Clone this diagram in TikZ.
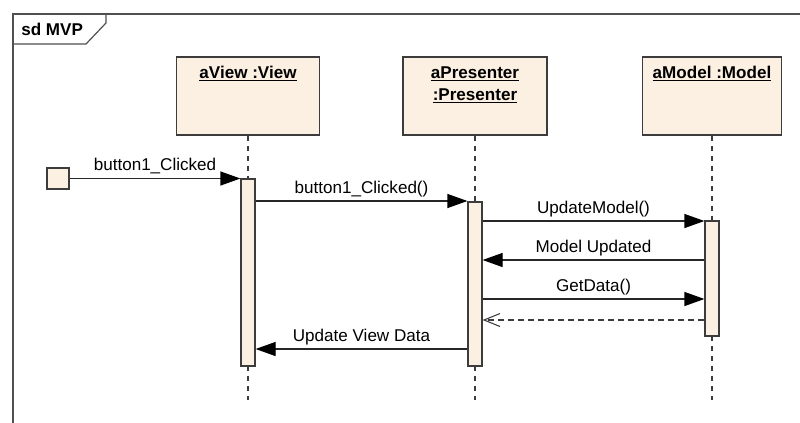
\documentclass[tikz,border=0pt]{standalone}
\usepackage{fontspec}
\setmainfont{Liberation Sans}
\usetikzlibrary{arrows.meta}
\definecolor{lifefill}{RGB}{251,240,226}
\definecolor{umlline}{RGB}{60,60,60}
\definecolor{framegray}{RGB}{80,80,80}
\begin{document}
\begin{tikzpicture}[x=0.75pt,y=-0.75pt,
  txt/.style={font=\fontsize{12.8}{15}\selectfont, text=black, inner sep=0pt},
  headtxt/.style={font=\fontsize{12.8}{15}\selectfont\bfseries, text=black, inner sep=0pt, anchor=base},
  head/.style={draw=umlline, fill=lifefill, line width=0.9pt, minimum height=58.5pt, inner sep=0pt},
  act/.style={draw=umlline, fill=lifefill, line width=0.9pt, minimum width=10.5pt, inner sep=0pt},
  lifeline/.style={draw=umlline, line width=0.9pt, dash pattern=on 3.75pt off 3.75pt},
  frameline/.style={draw=framegray, line width=0.9pt},
  msg/.style={draw=black!85, line width=0.9pt, -{Triangle[length=15pt,width=10.5pt,fill=black,color=black]}},
  ret/.style={draw=umlline, line width=0.8pt, dash pattern=on 4.5pt off 3pt,
    -{Straight Barb[length=12pt,width=9.75pt]}},
  lbl/.style={txt, midway, anchor=base, yshift=6pt}]
\useasboundingbox (0,0) rectangle (800,422);

% diagram frame and its "sd" tab
\draw[frameline] (13,440) -- (13,14) -- (830,14);
\draw[frameline] (13,44) -- (86,44) -- (106,23) -- (106,14);
\node[txt, anchor=west, font=\fontsize{12.8}{15}\selectfont\bfseries] (title) at (21,29) {sd MVP};

% lifeline heads
\node[head, minimum width=107.25pt] (view) at (248,96) {};
\node[head, minimum width=108pt] (pres) at (475,96) {};
\node[head, minimum width=104.25pt] (model) at (712,96) {};
\node[headtxt] (viewName) at (248,78) {\underline{aView :View}};
\node[headtxt] (presName) at (475,78) {\underline{aPresenter}};
\node[headtxt] (presType) at (475,100) {\underline{:Presenter}};
\node[headtxt] (modelName) at (712,78) {\underline{aModel :Model}};

% lifeline ends
\coordinate (lineEnd) at (0,400);

% activation bars
\coordinate (actVc) at (248,272.5);
\coordinate (actPc) at (475,284);
\coordinate (actMc) at (712,278.5);
\draw[lifeline] (view.south) -- (view.south |- lineEnd);
\draw[lifeline] (pres.south) -- (pres.south |- lineEnd);
\draw[lifeline] (model.south) -- (model.south |- lineEnd);
\node[act, minimum height=140.25pt] (actV) at (actVc) {};
\node[act, minimum height=123pt] (actP) at (actPc) {};
\node[act, minimum height=86.25pt] (actM) at (actMc) {};

% initial caller
\node[draw=umlline, fill=lifefill, line width=0.9pt, minimum width=16.5pt, minimum height=15.75pt, inner sep=0pt] (init) at (58,178.5) {};

% message levels
\coordinate (m1) at (0,201);
\coordinate (m2) at (0,221);
\coordinate (m3) at (0,260);
\coordinate (m4) at (0,299);
\coordinate (m5) at (0,320);
\coordinate (m6) at (0,349);

% messages
\draw[msg] (init.east) -- (actV.west |- init.east) node[lbl] (l0) {button1\_Clicked};
\draw[msg] (actV.east |- m1) -- (actP.west |- m1) node[lbl] (l1) {button1\_Clicked()};
\draw[msg] (actP.east |- m2) -- (actM.west |- m2) node[lbl] (l2) {UpdateModel()};
\draw[msg] (actM.west |- m3) -- (actP.east |- m3) node[lbl] (l3) {Model Updated};
\draw[msg] (actP.east |- m4) -- (actM.west |- m4) node[lbl] (l4) {GetData()};
\draw[ret] (actM.west |- m5) -- (actP.east |- m5);
\draw[msg] (actP.west |- m6) -- (actV.east |- m6) node[lbl] (l6) {Update View Data};
\end{tikzpicture}
\end{document}
